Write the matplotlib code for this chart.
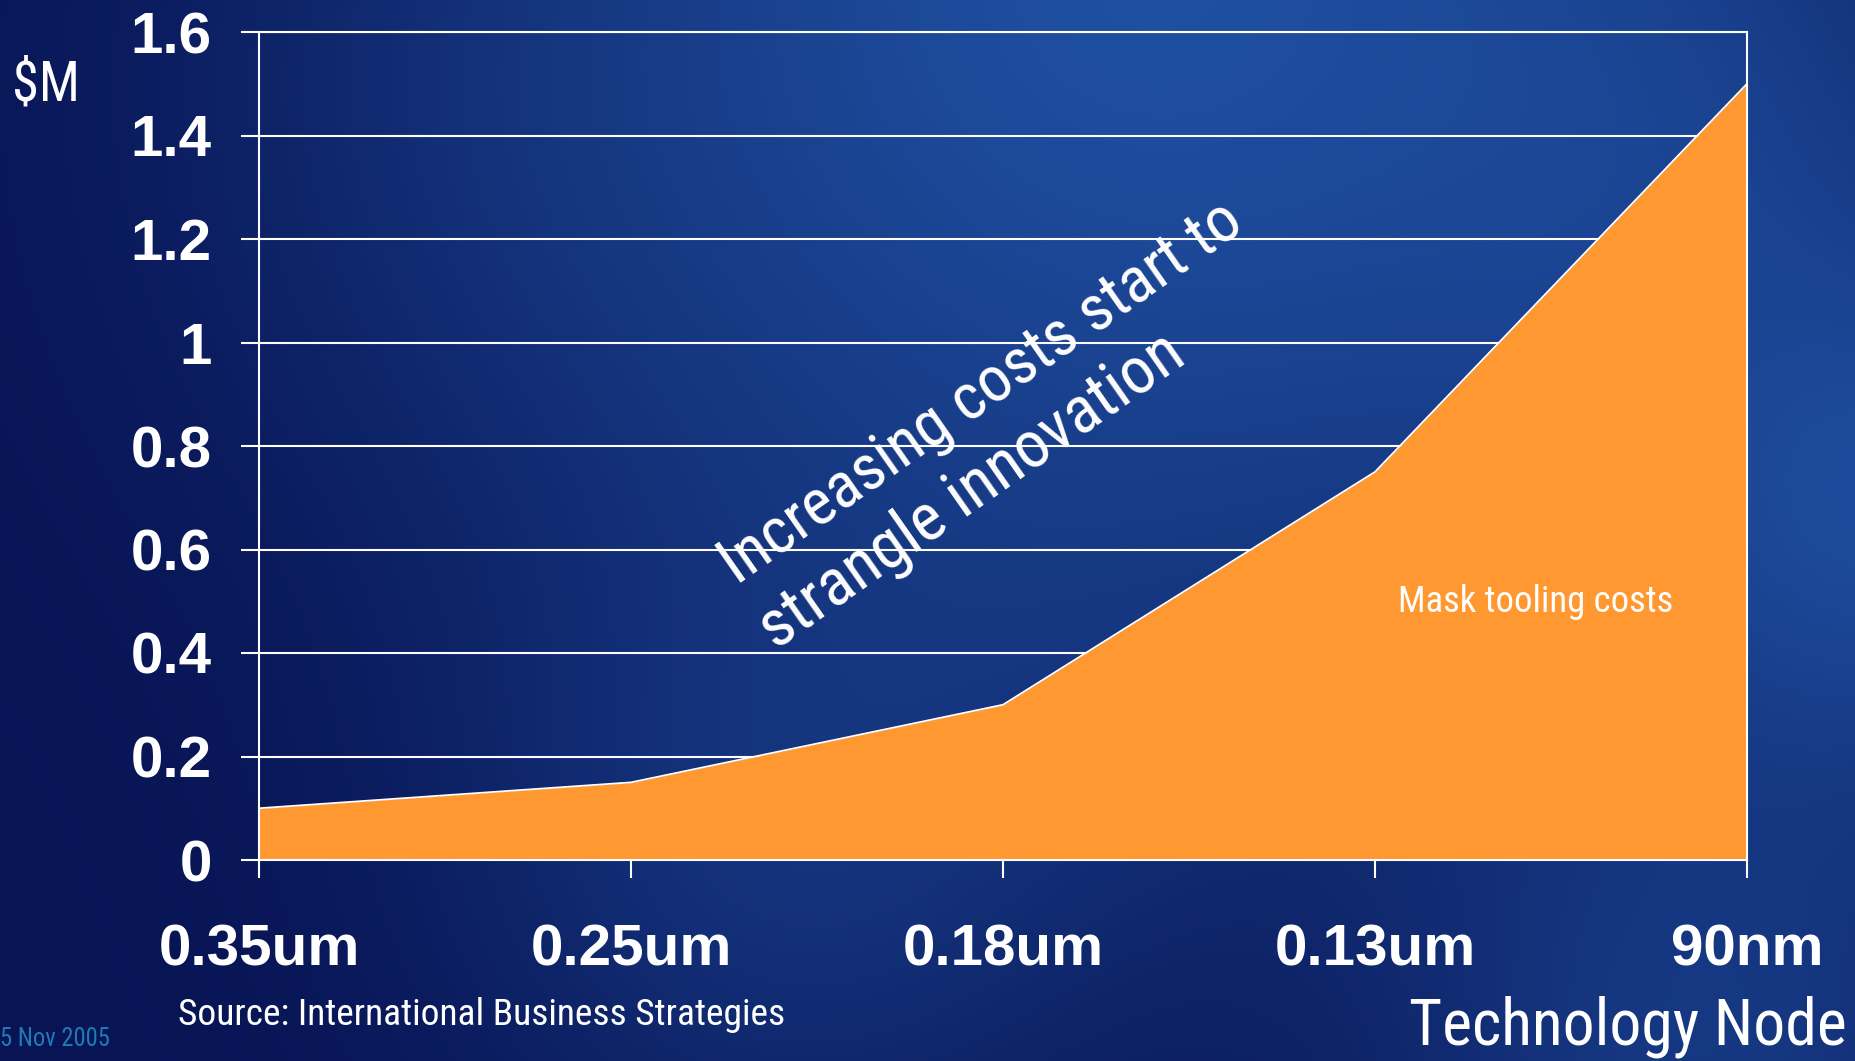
import numpy as np
import matplotlib
matplotlib.use("Agg")
import matplotlib.pyplot as plt

# ---- data ----
nodes = ["0.35um", "0.25um", "0.18um", "0.13um", "90nm"]
mask_cost = [0.10, 0.15, 0.30, 0.75, 1.50]
yticks = [0, 0.2, 0.4, 0.6, 0.8, 1.0, 1.2, 1.4, 1.6]
ytick_labels = ["0", "0.2", "0.4", "0.6", "0.8", "1", "1.2", "1.4", "1.6"]

W, H, DPI = 1856, 1061, 100
fig = plt.figure(figsize=(W / DPI, H / DPI), dpi=DPI)

# ---- background (decorative blue gradient) ----
yy, xx = np.mgrid[0:H, 0:W].astype(float)
dark = np.array([8, 20, 84]) / 255.0
light = np.array([32, 82, 164]) / 255.0
blobs = [  # x, y, sigma, strength
    (1150, -40, 430, 0.95),
    (1880, 500, 240, 0.85),
    (1600, 120, 260, 0.55),
    (780, 850, 240, 0.40),
    (1700, 1050, 240, 0.55),
    (600, 120, 300, 0.30),
    (1100, 520, 300, 0.30),
]
keep = np.ones((H, W))
for bx, by, s, k in blobs:
    g = np.exp(-((xx - bx) ** 2 + (yy - by) ** 2) / (2 * s ** 2))
    keep *= (1 - k * g)
t = 1 - keep
img = dark[None, None, :] * (1 - t[..., None]) + light[None, None, :] * t[..., None]
bg = fig.add_axes([0, 0, 1, 1], zorder=-10)
bg.imshow(img, aspect="auto", extent=[0, 1, 0, 1], interpolation="bilinear")
bg.axis("off")

# ---- main axes ----
L, R, T, B = 259, 1747, 32, 860
ax = fig.add_axes([L / W, 1 - B / H, (R - L) / W, (B - T) / H])
ax.set_facecolor("none")
x = np.arange(len(nodes))
ax.fill_between(x, 0, mask_cost, color="#FF9830", zorder=2, linewidth=0)
ax.plot(x, mask_cost, color="white", lw=1.3, zorder=3)
ax.set_xlim(0, len(nodes) - 1)
ax.set_ylim(0, 1.6)
ax.set_yticks(yticks)
ax.set_yticklabels(ytick_labels)
ax.set_xticks(x)
ax.set_xticklabels(nodes)
ax.yaxis.grid(True, color="white", lw=1.5, zorder=1)
ax.set_axisbelow(True)
for sp in ax.spines.values():
    sp.set_color("white")
    sp.set_linewidth(1.5)
    sp.set_zorder(4)
ax.tick_params(axis="both", colors="white", length=13, width=1.5, direction="out")
ax.tick_params(axis="y", pad=21)
ax.tick_params(axis="x", pad=33)
for lab in ax.get_yticklabels() + ax.get_xticklabels():
    lab.set_fontfamily("Liberation Sans")
    lab.set_fontweight("bold")
    lab.set_fontsize(42)
    lab.set_color("white")

narrow = ["Liberation Sans Narrow", "Arial Narrow", "Roboto Condensed", "Roboto"]
renderer = fig.canvas.get_renderer()


def fx(px):
    return px / W


def fy(py):
    return 1 - py / H


def fitted_text(px, py, s, target_w, family, size0, rotation=0, **kw):
    t = fig.text(fx(px), fy(py), s, family=family, fontsize=size0, **kw)
    for _ in range(3):
        w = t.get_window_extent(renderer).width
        t.set_fontsize(t.get_fontsize() * target_w / w)
    if rotation:
        t.set_rotation(rotation)
        t.set_rotation_mode("anchor")
    return t


fitted_text(12, 100, "$M", 68, narrow, 40, color="white", ha="left", va="baseline")
fitted_text(1847, 1044, "Technology Node", 438, narrow, 46, color="white",
            ha="right", va="baseline")
fitted_text(178, 1025, "Source: International Business Strategies", 607, narrow,
            26, color="white", ha="left", va="baseline")
fitted_text(0, 1046, "5 Nov 2005", 110, narrow, 18, color="#1f7ab8",
            ha="left", va="baseline")
fitted_text(1536, 612, "Mask tooling costs", 275, narrow, 28, color="white",
            ha="center", va="baseline")

fitted_text(737, 586, "Increasing costs start to", 622, narrow, 42,
            rotation=35, color="white", ha="left", va="baseline")
fitted_text(776, 650, "strangle innovation", 502, narrow, 42,
            rotation=35, color="white", ha="left", va="baseline")

fig.savefig("out.png", dpi=DPI)
